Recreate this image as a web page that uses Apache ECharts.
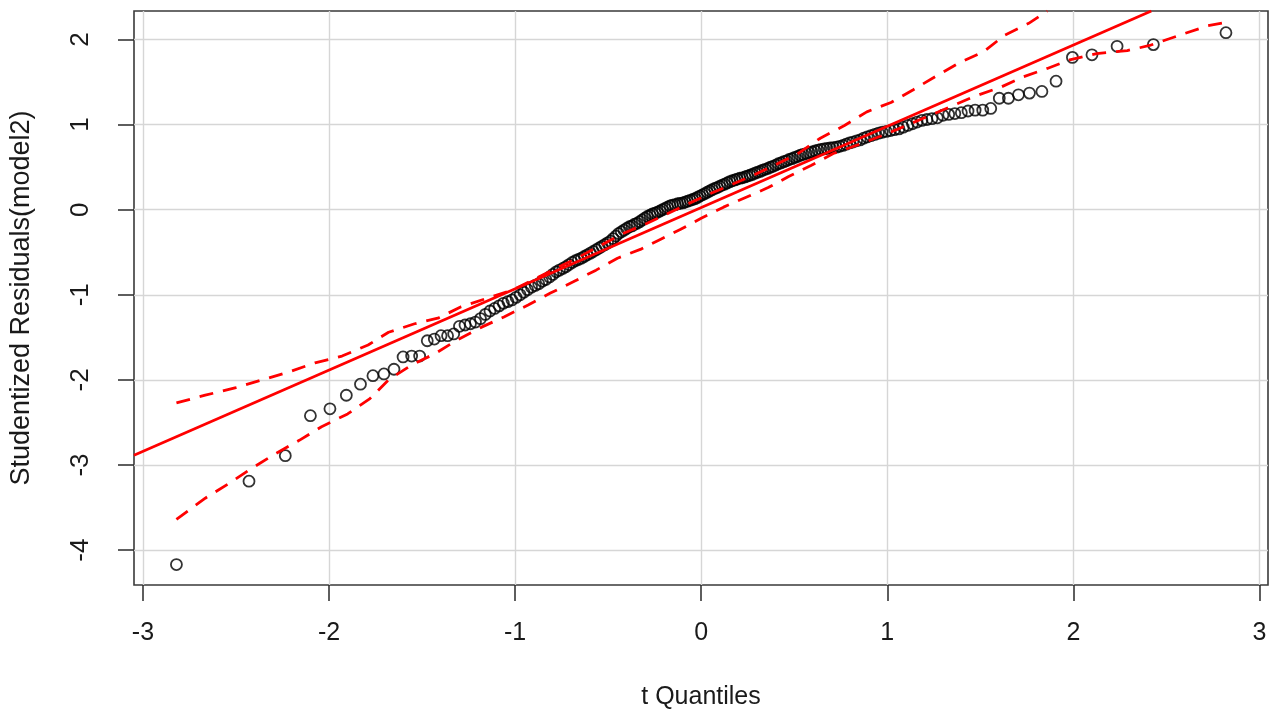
<!DOCTYPE html>
<html lang="en">
<head>
  <meta charset="UTF-8">
  <title>QQ plot - studentized residuals</title>
  <script src="https://cdn.jsdelivr.net/npm/echarts@6/dist/echarts.min.js"></script>
  <style>
    html, body { margin: 0; padding: 0; background: #fff; }
    #qq { width: 1271px; height: 715px; }
  </style>
</head>
<body>
<div id="qq"></div>

<script>
  // t quantiles (x) and studentized residuals (y)
  var qx = [
    -2.82, -2.43, -2.235, -2.10, -1.995, -1.907, -1.831, -1.764, -1.705, -1.651,
    -1.602, -1.556, -1.513, -1.472, -1.434, -1.398, -1.363, -1.330, -1.299, -1.269,
    -1.240, -1.213, -1.186, -1.160, -1.135, -1.110, -1.086, -1.063, -1.039, -1.017,
    -0.995, -0.973, -0.953, -0.933, -0.912, -0.892, -0.873, -0.854, -0.835, -0.815,
    -0.797, -0.779, -0.762, -0.744, -0.727, -0.710, -0.693, -0.676, -0.660, -0.644,
    -0.628, -0.612, -0.595, -0.580, -0.564, -0.548, -0.533, -0.518, -0.503, -0.488,
    -0.473, -0.458, -0.444, -0.429, -0.415, -0.401, -0.386, -0.372, -0.358, -0.344,
    -0.330, -0.317, -0.303, -0.289, -0.275, -0.262, -0.248, -0.235, -0.221, -0.208,
    -0.194, -0.181, -0.167, -0.154, -0.140, -0.126, -0.113, -0.099, -0.086, -0.073,
    -0.059, -0.046, -0.033, -0.020, -0.007,
    0.007, 0.020, 0.033, 0.046, 0.059, 0.073, 0.086, 0.099, 0.113, 0.126,
    0.140, 0.154, 0.167, 0.181, 0.194, 0.208, 0.221, 0.235, 0.248, 0.262,
    0.275, 0.289, 0.303, 0.317, 0.330, 0.344, 0.358, 0.372, 0.386, 0.401,
    0.415, 0.429, 0.444, 0.458, 0.473, 0.488, 0.503, 0.518, 0.533, 0.548,
    0.564, 0.580, 0.595, 0.612, 0.628, 0.644, 0.660, 0.676, 0.693, 0.710,
    0.727, 0.744, 0.762, 0.779, 0.797, 0.815, 0.835, 0.854, 0.873, 0.892,
    0.912, 0.933, 0.953, 0.973, 0.995, 1.017, 1.039, 1.063, 1.086, 1.110,
    1.135, 1.160, 1.186, 1.213, 1.240, 1.269, 1.299, 1.330, 1.363, 1.398,
    1.434, 1.472, 1.513, 1.556, 1.602, 1.651, 1.705, 1.764, 1.831, 1.907,
    1.995, 2.10, 2.235, 2.43, 2.82
  ];
  var qy = [
    -4.17, -3.19, -2.89, -2.42, -2.34, -2.18, -2.05, -1.95, -1.93, -1.875,
    -1.73, -1.72, -1.72, -1.54, -1.52, -1.48, -1.48, -1.46, -1.37, -1.355,
    -1.34, -1.32, -1.28, -1.23, -1.19, -1.16, -1.13, -1.10, -1.08, -1.06,
    -1.03, -1.00, -0.97, -0.94, -0.91, -0.89, -0.87, -0.84, -0.82, -0.79,
    -0.76, -0.73, -0.71, -0.69, -0.67, -0.645, -0.62, -0.60, -0.585, -0.57,
    -0.55, -0.53, -0.51, -0.49, -0.47, -0.45, -0.43, -0.41, -0.39, -0.37,
    -0.34, -0.31, -0.28, -0.26, -0.24, -0.22, -0.20, -0.19, -0.17, -0.16,
    -0.14, -0.12, -0.10, -0.08, -0.065, -0.05, -0.04, -0.03, -0.015, 0.0,
    0.015, 0.03, 0.045, 0.055, 0.06, 0.07, 0.075, 0.08, 0.09, 0.10,
    0.11, 0.12, 0.13, 0.145, 0.16,
    0.175, 0.19, 0.205, 0.22, 0.235, 0.25, 0.26, 0.275, 0.29, 0.30,
    0.315, 0.33, 0.34, 0.35, 0.36, 0.37, 0.375, 0.385, 0.395, 0.405,
    0.415, 0.43, 0.44, 0.45, 0.465, 0.475, 0.485, 0.50, 0.51, 0.525,
    0.54, 0.55, 0.565, 0.575, 0.59, 0.60, 0.615, 0.625, 0.64, 0.65,
    0.66, 0.67, 0.68, 0.69, 0.70, 0.71, 0.715, 0.72, 0.725, 0.73,
    0.735, 0.745, 0.755, 0.77, 0.785, 0.795, 0.81, 0.82, 0.84, 0.855,
    0.87, 0.885, 0.90, 0.91, 0.92, 0.93, 0.94, 0.95, 0.97, 0.99,
    1.01, 1.03, 1.05, 1.06, 1.07, 1.08, 1.11, 1.12, 1.13, 1.14,
    1.16, 1.17, 1.17, 1.19, 1.31, 1.31, 1.35, 1.37, 1.39, 1.51,
    1.79, 1.82, 1.92, 1.94, 2.08
  ];

  // reference line, where it meets the plot frame
  var fitX = [-3.048, 2.419];
  var fitY = [-2.885, 2.335];

  // simulated envelope, upper and lower
  var upperX = [-2.82, -2.665, -2.50, -2.36, -2.22, -2.075, -1.93, -1.79, -1.68, -1.54,
    -1.41, -1.29, -1.15, -1.02, -0.90, -0.66, -0.42, -0.29, -0.07, 0.05,
    0.18, 0.30, 0.41, 0.52, 0.64, 0.77, 0.89, 1.02, 1.14, 1.27,
    1.39, 1.52, 1.63, 1.76, 1.86];
  var upperY = [-2.27, -2.18, -2.09, -2.00, -1.91, -1.80, -1.72, -1.59, -1.44, -1.34,
    -1.27, -1.14, -1.04, -0.95, -0.82, -0.56, -0.28, -0.16, 0.07, 0.19,
    0.31, 0.425, 0.54, 0.66, 0.84, 0.99, 1.15, 1.26, 1.41, 1.58,
    1.73, 1.86, 2.05, 2.19, 2.335];
  var lowerX = [-2.82, -2.665, -2.54, -2.43, -2.29, -2.16, -2.04, -1.90, -1.78, -1.68,
    -1.56, -1.43, -1.31, -1.18, -1.06, -0.93, -0.81, -0.69, -0.565, -0.45,
    -0.32, -0.22, -0.11, 0.00, 0.12, 0.245, 0.36, 0.47, 0.59, 0.71,
    0.84, 0.96, 1.06, 1.20, 1.34, 1.46, 1.61, 1.73, 1.86, 1.98,
    2.125, 2.29, 2.41, 2.57, 2.72, 2.82];
  var lowerY = [-3.64, -3.39, -3.22, -3.06, -2.87, -2.71, -2.55, -2.40, -2.22, -2.00,
    -1.83, -1.69, -1.53, -1.38, -1.26, -1.12, -0.98, -0.85, -0.71, -0.57,
    -0.46, -0.35, -0.23, -0.10, 0.03, 0.15, 0.26, 0.39, 0.52, 0.66,
    0.76, 0.86, 0.95, 1.08, 1.21, 1.325, 1.44, 1.56, 1.66, 1.76,
    1.835, 1.87, 1.93, 2.05, 2.16, 2.20];

  var xTicks = [-3, -2, -1, 0, 1, 2, 3];
  var yTicks = [-4, -3, -2, -1, 0, 1, 2];

  function pairs(xs, ys) {
    return xs.map(function (x, i) { return [x, ys[i]]; });
  }

  var chart = echarts.init(document.getElementById('qq'));
  var font = "'Liberation Sans', Arial, sans-serif";
  var red = '#ff0000';

  var option = {
    animation: false,
    backgroundColor: '#ffffff',
    grid: {
      left: 131, right: 3, top: 11, bottom: 130,
      show: true, borderColor: '#3a3a3a', borderWidth: 1.6
    },
    xAxis: {
      type: 'value',
      position: 'bottom',
      min: -3.048, max: 3.046,
      name: 't Quantiles',
      nameLocation: 'middle',
      nameGap: 100,
      nameTextStyle: { fontFamily: font, fontSize: 25, color: '#1a1a1a' },
      axisLine: { show: false, onZero: false },
      axisTick: { show: true, inside: false, length: 16, customValues: xTicks,
        lineStyle: { color: '#2a2a2a', width: 1.5 } },
      axisLabel: { customValues: xTicks, margin: 36, fontFamily: font, fontSize: 25, color: '#1a1a1a' },
      splitLine: { show: true, lineStyle: { color: '#d6d6d6', width: 1.4 } }
    },
    yAxis: {
      type: 'value',
      position: 'left',
      min: -4.41, max: 2.335,
      name: 'Studentized Residuals(model2)',
      nameLocation: 'middle',
      nameGap: 99,
      nameTextStyle: { fontFamily: font, fontSize: 27, color: '#1a1a1a' },
      axisLine: { show: false, onZero: false },
      axisTick: { show: true, inside: false, length: 16, customValues: yTicks,
        lineStyle: { color: '#2a2a2a', width: 1.5 } },
      axisLabel: { customValues: yTicks, rotate: 90, margin: 40, fontFamily: font, fontSize: 26, color: '#1a1a1a' },
      splitLine: { show: true, lineStyle: { color: '#d6d6d6', width: 1.4 } }
    },
    series: [
      {
        name: 'residuals',
        type: 'scatter',
        data: pairs(qx, qy),
        symbol: 'circle',
        symbolSize: 11,
        silent: true,
        itemStyle: { color: 'rgba(0,0,0,0)', borderColor: '#000', borderWidth: 1.8 }
      },
      {
        name: 'fit',
        type: 'line',
        data: pairs(fitX, fitY),
        showSymbol: false,
        silent: true,
        lineStyle: { color: red, width: 2.8 }
      },
      {
        name: 'upper',
        type: 'line',
        data: pairs(upperX, upperY),
        showSymbol: false,
        silent: true,
        lineStyle: { color: red, width: 2.8, type: [14, 10] }
      },
      {
        name: 'lower',
        type: 'line',
        data: pairs(lowerX, lowerY),
        showSymbol: false,
        silent: true,
        lineStyle: { color: red, width: 2.8, type: [14, 10] }
      }
    ]
  };

  chart.setOption(option);
</script>
</body>
</html>
